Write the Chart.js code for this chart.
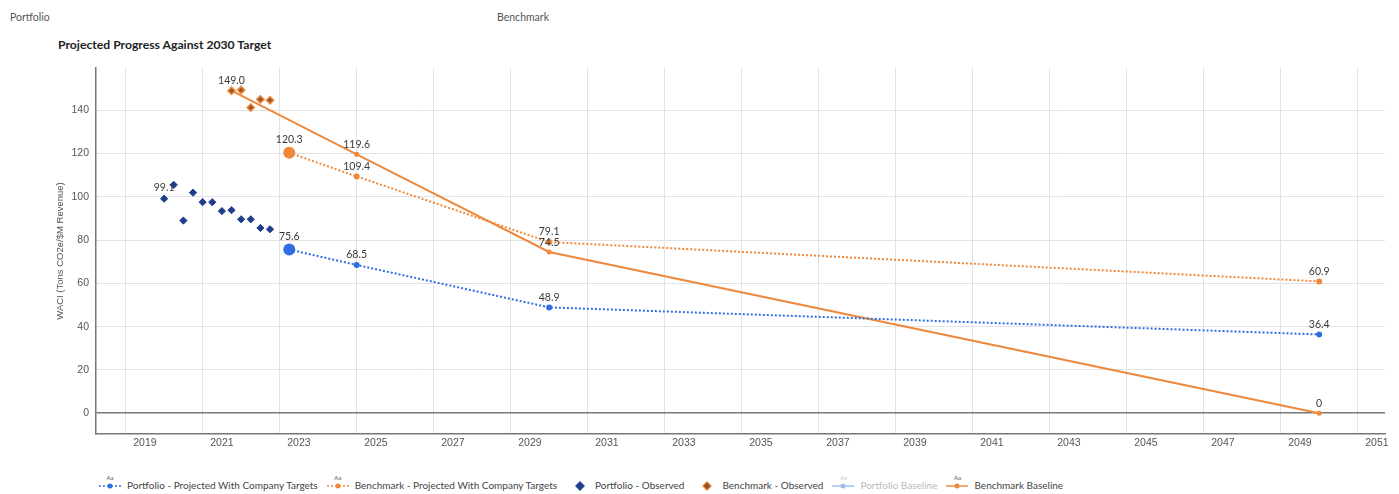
<!DOCTYPE html>
<html>
<head>
<meta charset="utf-8">
<script src="https://cdn.jsdelivr.net/npm/chart.js@4.4.1/dist/chart.umd.min.js"></script>
<style>
  html, body { margin: 0; padding: 0; background: #fff; }
  body { width: 1399px; height: 494px; position: relative; overflow: hidden; font-family: Lato, "Noto Sans", sans-serif; color: #444; }
  .tab { position: absolute; top: 11px; font-size: 10.5px; color: #555; }
  #title { position: absolute; left: 58px; top: 37px; font-size: 12.2px; font-weight: bold; color: #222; }
  #wrap { position: absolute; left: 0; top: 0; width: 1399px; height: 454px; }
  #legend { position: absolute; left: 98px; top: 474px; display: flex; align-items: flex-end; font-size: 10px; color: #444; white-space: nowrap; }
  .item { display: flex; align-items: flex-end; margin-right: 8px; }
  .sym { position: relative; width: 24px; height: 18px; margin-right: 5px; }
  .sym .aa { position: absolute; top: 0; left: 0; width: 24px; text-align: center; font-size: 6px; color: #555; }
  .sym svg { position: absolute; left: 0; bottom: 0; }
  .item.off { color: #bbb; }
  .item.off .aa { color: #ccc; }
</style>
</head>
<body>
<div class="tab" style="left:10px">Portfolio</div>
<div class="tab" style="left:497px">Benchmark</div>
<div id="title">Projected Progress Against 2030 Target</div>
<div id="wrap"><canvas id="chart" width="1399" height="454"></canvas></div>
<div id="legend"></div>
<script>
// observed quarters
const portfolioObsYears = [2019.5, 2019.75, 2020.0, 2020.25, 2020.5, 2020.75, 2021.0, 2021.25, 2021.5, 2021.75, 2022.0, 2022.25];
const portfolioObserved = [99.1, 105.5, 89.0, 101.9, 97.5, 97.5, 93.4, 93.8, 89.6, 89.6, 85.6, 85.0];
const benchmarkObsYears = [2021.25, 2021.5, 2021.75, 2022.0, 2022.25];
const benchmarkObserved = [149.0, 149.3, 141.2, 145.0, 144.6];

// projections
const projYears = [2022.75, 2024.5, 2029.5, 2049.5];
const portfolioProjected = [75.6, 68.5, 48.9, 36.4];
const benchmarkProjected = [120.3, 109.4, 79.1, 60.9];

// baselines
const baselineYears = [2021.25, 2024.5, 2029.5, 2049.5];
const benchmarkBaseline = [149.0, 119.6, 74.5, 0];
const portfolioBaseline = [];

const xTickYears = [2019, 2021, 2023, 2025, 2027, 2029, 2031, 2033, 2035, 2037, 2039, 2041, 2043, 2045, 2047, 2049, 2051];
const xGridYears = [2018.5, 2020.5, 2022.5, 2024.5, 2026.5, 2028.5, 2030.5, 2032.5, 2034.5, 2036.5, 2038.5, 2040.5, 2042.5, 2044.5, 2046.5, 2048.5, 2050.5];
const yTicks = [0, 20, 40, 60, 80, 100, 120, 140];

const BLUE = '#2f6fe0';
const ORANGE = '#f0883a';
const NAVY = '#1f3d8c';

const pts = (xs, ys) => ys.map((v, i) => ({ x: xs[i], y: v }));

// draws value labels above points
const valueLabels = {
  id: 'valueLabels',
  afterDatasetsDraw(chart) {
    const ctx = chart.ctx;
    ctx.save();
    ctx.font = '10.5px Lato, sans-serif';
    ctx.fillStyle = '#3a3a3a';
    ctx.textAlign = 'center';
    ctx.textBaseline = 'bottom';
    chart.data.datasets.forEach((ds, di) => {
      if (!ds.labelIdx || !chart.isDatasetVisible(di)) return;
      const meta = chart.getDatasetMeta(di);
      ds.labelIdx.forEach(i => {
        const el = meta.data[i];
        if (!el) return;
        const v = ds.data[i].y;
        const txt = v === 0 ? '0' : v.toFixed(1);
        const r = (typeof ds.pointRadius === 'function') ? (i === 0 ? 6 : 3) : (ds.pointRadius || 3);
        ctx.fillText(txt, el.x, el.y - r - 2);
      });
    });
    ctx.restore();
  }
};

const bigFirst = c => c.dataIndex === 0 ? 6 : 3;

const chart = new Chart(document.getElementById('chart').getContext('2d'), {
  type: 'scatter',
  data: {
    datasets: [
      {
        label: 'Portfolio - Projected With Company Targets',
        data: pts(projYears, portfolioProjected),
        showLine: true,
        borderColor: BLUE,
        backgroundColor: BLUE,
        borderWidth: 2,
        borderDash: [2, 2],
        pointRadius: bigFirst,
        pointBorderWidth: 0,
        labelIdx: [0, 1, 2, 3],
        legendKind: 'dotted'
      },
      {
        label: 'Benchmark - Projected With Company Targets',
        data: pts(projYears, benchmarkProjected),
        showLine: true,
        borderColor: ORANGE,
        backgroundColor: ORANGE,
        borderWidth: 2,
        borderDash: [2, 2],
        pointRadius: bigFirst,
        pointBorderWidth: 0,
        labelIdx: [0, 1, 2, 3],
        legendKind: 'dotted'
      },
      {
        label: 'Portfolio - Observed',
        data: pts(portfolioObsYears, portfolioObserved),
        pointStyle: 'rectRot',
        pointRadius: 3.6,
        backgroundColor: NAVY,
        borderColor: NAVY,
        borderWidth: 1,
        labelIdx: [0],
        legendKind: 'diamond'
      },
      {
        label: 'Benchmark - Observed',
        data: pts(benchmarkObsYears, benchmarkObserved),
        pointStyle: 'rectRot',
        pointRadius: 3.6,
        backgroundColor: '#9a5222',
        borderColor: '#e8883c',
        borderWidth: 1.6,
        legendKind: 'diamond'
      },
      {
        label: 'Portfolio Baseline',
        data: pts(baselineYears, portfolioBaseline),
        showLine: true,
        hidden: true,
        borderColor: '#9fc0ef',
        backgroundColor: '#9fc0ef',
        borderWidth: 2,
        pointRadius: 3,
        legendKind: 'solid'
      },
      {
        label: 'Benchmark Baseline',
        data: pts(baselineYears, benchmarkBaseline),
        showLine: true,
        borderColor: ORANGE,
        backgroundColor: ORANGE,
        borderWidth: 2,
        pointRadius: 2.5,
        pointBorderWidth: 0,
        labelIdx: [0, 1, 2, 3],
        legendKind: 'solid'
      }
    ]
  },
  options: {
    responsive: false,
    animation: false,
    layout: { padding: { left: 55, right: 14, top: 68, bottom: 0 } },
    plugins: {
      legend: { display: false },
      tooltip: { enabled: false }
    },
    scales: {
      x: {
        type: 'linear',
        min: 2017.73,
        max: 2051.21,
        afterBuildTicks: s => { s.ticks = xGridYears.concat(xTickYears).sort((a, b) => a - b).map(v => ({ value: v })); },
        afterFit: s => { s.height = 20; },
        ticks: {
          autoSkip: false,
          maxRotation: 0,
          padding: 3,
          color: '#555',
          font: { size: 10.5 },
          callback: v => (v % 1 === 0 ? String(v) : '')
        },
        grid: {
          drawTicks: false,
          color: c => (c.tick && c.tick.value % 1 !== 0 ? '#e2e2e2' : 'rgba(0,0,0,0)')
        },
        border: { color: '#777', width: 1.5 }
      },
      y: {
        min: -9.6,
        max: 159.5,
        afterBuildTicks: s => { s.ticks = yTicks.map(v => ({ value: v })); },
        afterFit: s => { s.width = 41; },
        ticks: { padding: 7, color: '#555', font: { size: 10.5 } },
        grid: {
          drawTicks: false,
          color: c => (c.tick && c.tick.value === 0 ? '#777' : '#e2e2e2'),
          lineWidth: c => (c.tick && c.tick.value === 0 ? 1.5 : 1)
        },
        border: { color: '#777', width: 1.5 },
        title: {
          display: true,
          text: 'WACI (Tons CO2e/$M Revenue)',
          color: '#555',
          font: { size: 9.5 },
          padding: { top: 0, bottom: 2 }
        }
      }
    }
  },
  plugins: [valueLabels]
});

// html legend built from the datasets
const legendEl = document.getElementById('legend');
chart.data.datasets.forEach((ds, i) => {
  const item = document.createElement('div');
  item.className = 'item' + (chart.isDatasetVisible(i) ? '' : ' off');
  const col = chart.isDatasetVisible(i) ? ds.borderColor : '#9fc0ef';
  let svg;
  if (ds.legendKind === 'diamond') {
    svg = `<svg width="14" height="12"><rect x="4" y="3" width="6" height="6" transform="rotate(45 7 6)" fill="${ds.backgroundColor}" stroke="${ds.borderColor}" stroke-width="1"/></svg>`;
  } else {
    const dash = ds.legendKind === 'dotted' ? 'stroke-dasharray="2,2"' : '';
    svg = `<svg width="24" height="12"><line x1="1" y1="6" x2="23" y2="6" stroke="${col}" stroke-width="1.5" ${dash}/><circle cx="12" cy="6" r="2.5" fill="${col}"/></svg>`;
  }
  const aa = ds.legendKind === 'diamond' ? '' : '<span class="aa">Aa</span>';
  const w = ds.legendKind === 'diamond' ? 'style="width:14px;margin-left:8px;margin-right:8px"' : '';
  item.innerHTML = `<span class="sym" ${w}>${aa}${svg}</span><span style="line-height:14px">${ds.label}</span>`;
  legendEl.appendChild(item);
});
</script>
</body>
</html>
